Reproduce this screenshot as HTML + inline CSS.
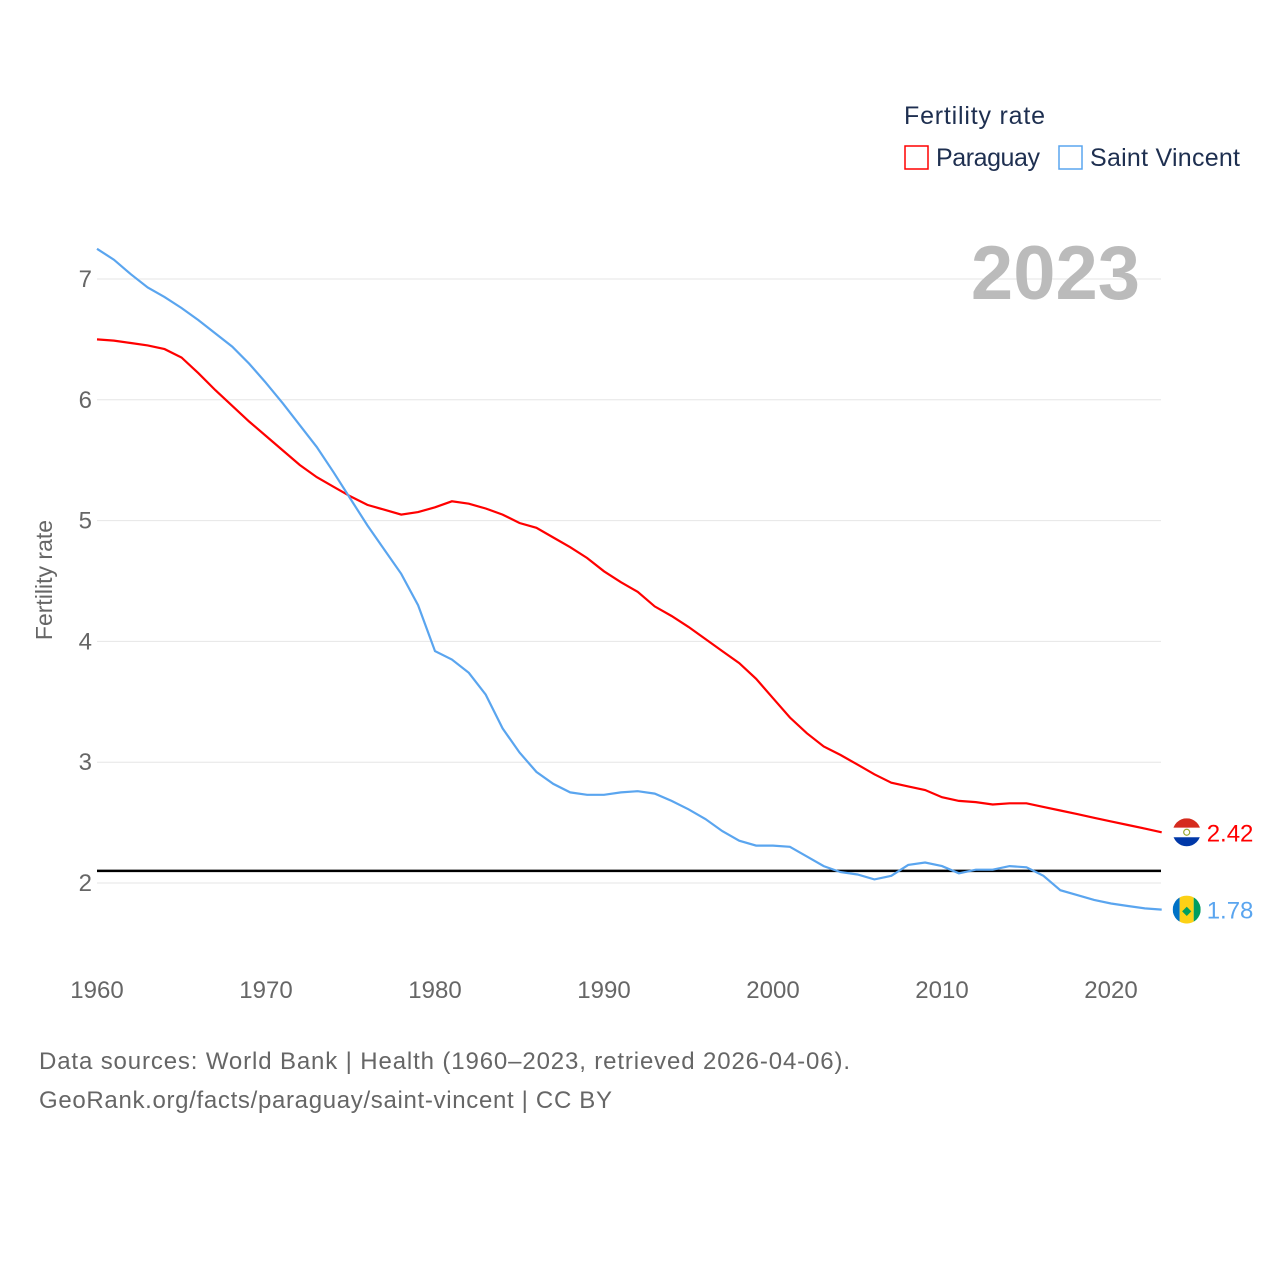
<!DOCTYPE html>
<html><head><meta charset="utf-8">
<style>
body{margin:0;background:#fff;font-family:"Liberation Sans",sans-serif;}
svg text{font-family:"Liberation Sans",sans-serif;}
</style></head>
<body>
<svg width="1280" height="1280" viewBox="0 0 1280 1280">
<g id="grid"></g>
<g id="yt"></g>
<g id="xt"></g>
<text x="52" y="580" transform="rotate(-90 52 580)" text-anchor="middle" font-size="23" fill="#666">Fertility rate</text>
<text x="1140" y="299" text-anchor="end" font-size="76" font-weight="bold" fill="#bbb">2023</text>
<line id="ref" stroke="#000" stroke-width="2.5"/>
<path id="pry" fill="none" stroke="#f00" stroke-width="2.2"/>
<path id="svg" fill="none" stroke="#5aa5ef" stroke-width="2.2"/>
<g>
<clipPath id="c1"><circle id="f1c" r="14"/></clipPath>
<g id="f1" clip-path="url(#c1)"></g>
</g>
<text id="l1" font-size="24" fill="#f00">2.42</text>
<text id="l2" font-size="24" fill="#5aa5ef">1.78</text>
<text x="904" y="124" font-size="25" fill="#1e2f50" textLength="141">Fertility rate</text>
<g>
<rect x="905" y="146" width="23" height="23" fill="none" stroke="#f00" stroke-width="1.5"/>
<text x="936" y="166" font-size="25" fill="#1e2f50" textLength="104">Paraguay</text></g>
<g>
<rect x="1059" y="146" width="23" height="23" fill="none" stroke="#5aa5ef" stroke-width="1.5"/>
<text x="1090" y="166" font-size="25" fill="#1e2f50" textLength="150">Saint Vincent</text></g>
<text x="39" y="1069" font-size="24" fill="#666" textLength="811">Data sources: World Bank | Health (1960–2023, retrieved 2026-04-06).</text>
<text x="39" y="1108" font-size="24" fill="#666" textLength="573">GeoRank.org/facts/paraguay/saint-vincent | CC BY</text>
</svg>
<script>
const years=[];for(let y=1960;y<=2023;y++)years.push(y);
const paraguay=[6.50,6.49,6.47,6.45,6.42,6.35,6.22,6.08,5.95,5.82,5.70,5.58,5.46,5.36,5.28,5.20,5.13,5.09,5.05,5.07,5.11,5.16,5.14,5.10,5.05,4.98,4.94,4.86,4.78,4.69,4.58,4.49,4.41,4.29,4.21,4.12,4.02,3.92,3.82,3.69,3.53,3.37,3.24,3.13,3.06,2.98,2.90,2.83,2.80,2.77,2.71,2.68,2.67,2.65,2.66,2.66,2.63,2.60,2.57,2.54,2.51,2.48,2.45,2.42];
const saintVincent=[7.25,7.16,7.04,6.93,6.85,6.76,6.66,6.55,6.44,6.30,6.14,5.97,5.79,5.61,5.40,5.18,4.96,4.76,4.56,4.30,3.92,3.85,3.74,3.56,3.28,3.08,2.92,2.82,2.75,2.73,2.73,2.75,2.76,2.74,2.68,2.61,2.53,2.43,2.35,2.31,2.31,2.30,2.22,2.14,2.09,2.07,2.03,2.06,2.15,2.17,2.14,2.08,2.11,2.11,2.14,2.13,2.06,1.94,1.90,1.86,1.83,1.81,1.79,1.78];
const yTicks=[2,3,4,5,6,7];
const xTicks=[1960,1970,1980,1990,2000,2010,2020];
const replacement=2.1;
const X=y=>97+(y-1960)*(1111-97)/60;
const Y=v=>883-(v-2)*120.8;
const NS="http://www.w3.org/2000/svg";
const mk=(t,a,p)=>{const e=document.createElementNS(NS,t);for(const k in a)e.setAttribute(k,a[k]);p.appendChild(e);return e;};
const grid=document.getElementById('grid'),yt=document.getElementById('yt'),xt=document.getElementById('xt');
yTicks.forEach(v=>{
 const l=mk('line',{x1:97,x2:1161,y1:Y(v),y2:Y(v),stroke:'#e6e6e6','stroke-width':1},grid);
 
 
 const t=mk('text',{x:92,y:Y(v)+8,'text-anchor':'end','font-size':24,fill:'#666'},yt);
 t.textContent=v;
 
 
});
xTicks.forEach(v=>{
 const t=mk('text',{x:X(v),y:998,'text-anchor':'middle','font-size':24,fill:'#666'},xt);
 t.textContent=v;
 
 
});
const r=document.getElementById('ref');
r.setAttribute('x1',97);r.setAttribute('x2',1161);r.setAttribute('y1',Y(replacement));r.setAttribute('y2',Y(replacement));
const path=a=>a.map((v,i)=>(i?'L':'M')+X(years[i]).toFixed(1)+','+Y(v).toFixed(1)).join('');
document.getElementById('pry').setAttribute('d',path(paraguay));
document.getElementById('svg').setAttribute('d',path(saintVincent));
const lx=X(years[years.length-1]);
const py=Y(paraguay[paraguay.length-1]),sy=Y(saintVincent[saintVincent.length-1]);
const cx=lx+25;
document.getElementById('f1c').setAttribute('cx',cx);document.getElementById('f1c').setAttribute('cy',py);
const f1=document.getElementById('f1');
mk('rect',{x:cx-14,y:py-14,width:28,height:9.5,fill:'#d52b1e'},f1);
mk('rect',{x:cx-14,y:py-4.5,width:28,height:9.5,fill:'#fff'},f1);
mk('rect',{x:cx-14,y:py+5,width:28,height:9.5,fill:'#0038a8'},f1);
mk('circle',{cx:cx,cy:py,r:3,fill:'none',stroke:'#9a3','stroke-width':1.2},f1);
const g2=mk('g',{},document.querySelector('svg'));


const cp=mk('clipPath',{id:'c2'},g2);mk('circle',{cx:cx,cy:sy,r:14},cp);
const f2=mk('g',{'clip-path':'url(#c2)'},g2);
mk('rect',{x:cx-14,y:sy-14,width:7,height:28,fill:'#0072c6'},f2);
mk('rect',{x:cx-7,y:sy-14,width:14,height:28,fill:'#fcd116'},f2);
mk('rect',{x:cx+7,y:sy-14,width:7,height:28,fill:'#009e60'},f2);
mk('text',{x:cx,y:sy+5,'text-anchor':'middle','font-size':12,fill:'#009e60'},f2).textContent='◆';
const l1=document.getElementById('l1');l1.setAttribute('x',cx+20);l1.setAttribute('y',py+9);
const l2=document.getElementById('l2');l2.setAttribute('x',cx+20);l2.setAttribute('y',sy+9);
</script>
</body></html>
